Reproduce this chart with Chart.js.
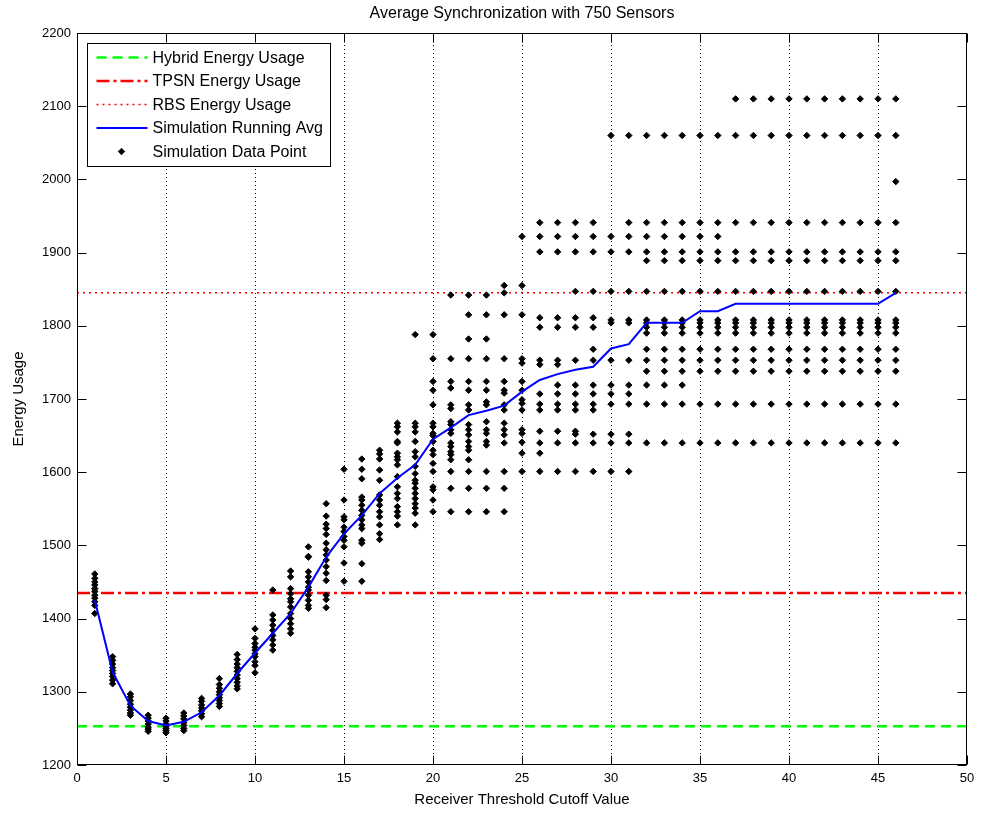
<!DOCTYPE html>
<html>
<head>
  <meta charset="utf-8">
  <script src="https://cdn.jsdelivr.net/npm/chart.js"></script>
  <style>
    html, body { margin: 0; padding: 0; background: #fff; }
    #wrap { width: 982px; height: 814px; }
  </style>
</head>
<body>
  <div id="wrap"><canvas id="energyChart" width="982" height="814"></canvas></div>

  <script>
    // receiver threshold cutoff values used by the simulation
    const thresholds = [
      1, 2, 3, 4, 5, 6, 7, 8, 9, 10, 11, 12, 13, 14, 15, 16, 17, 18, 19, 20, 21, 22, 23,
      24, 25, 26, 27, 28, 29, 30, 31, 32, 33, 34, 35, 36, 37, 38, 39, 40, 41, 42, 43, 44, 45, 46
    ]

    // running average of the simulated energy usage
    const runningAvg = [
      1425, 1327, 1281, 1260, 1254, 1259, 1272, 1295, 1325, 1353,
      1380, 1407, 1443, 1484, 1516, 1541, 1571, 1592, 1610, 1645,
      1661, 1678, 1684, 1691, 1710, 1726, 1734, 1740, 1744, 1769,
      1775, 1804, 1804, 1804, 1820, 1820, 1830, 1830, 1830, 1830,
      1830, 1830, 1830, 1830, 1830, 1845
    ]

    // single simulation runs, one list per threshold value (1..46)
    const simulationRuns = [
      [1461, 1455, 1450, 1446, 1441, 1437, 1432, 1428, 1423, 1418, 1407],
      [1348, 1343, 1338, 1333, 1329, 1325, 1321, 1316, 1311],
      [1297, 1293, 1288, 1283, 1279, 1275, 1271, 1268],
      [1268, 1264, 1260, 1256, 1252, 1249, 1246],
      [1264, 1260, 1256, 1253, 1250, 1247, 1244],
      [1271, 1267, 1263, 1258, 1254, 1250, 1247],
      [1291, 1287, 1282, 1278, 1274, 1270, 1266],
      [1318, 1310, 1305, 1300, 1296, 1292, 1288, 1284, 1280],
      [1351, 1344, 1338, 1333, 1328, 1323, 1318, 1313, 1308, 1304],
      [1386, 1373, 1366, 1361, 1357, 1352, 1348, 1341, 1336, 1326],
      [1439, 1405, 1398, 1391, 1384, 1377, 1371, 1364, 1357],
      [1465, 1457, 1441, 1434, 1427, 1423, 1416, 1407, 1400, 1393, 1386, 1380],
      [1498, 1485, 1484, 1464, 1457, 1450, 1443, 1439, 1432, 1425, 1418, 1414],
      [1557, 1540, 1529, 1523, 1515, 1503, 1494, 1487, 1480, 1471, 1462, 1452, 1432, 1426, 1415],
      [1604, 1562, 1539, 1535, 1525, 1519, 1512, 1507, 1498, 1476, 1451],
      [1618, 1604, 1591, 1566, 1562, 1555, 1548, 1541, 1535, 1528, 1523, 1507, 1503, 1475, 1451],
      [1630, 1625, 1618, 1603, 1589, 1569, 1562, 1555, 1546, 1539, 1528, 1516, 1508],
      [1667, 1662, 1655, 1642, 1640, 1626, 1621, 1617, 1610, 1594, 1580, 1571, 1564, 1553, 1546, 1540, 1528],
      [1788, 1667, 1662, 1655, 1642, 1628, 1621, 1608, 1598, 1589, 1585, 1578, 1571, 1564, 1557, 1551, 1544, 1528],
      [1788, 1755, 1724, 1712, 1692, 1667, 1662, 1653, 1650, 1642, 1630, 1624, 1612, 1601, 1580, 1576, 1562, 1546],
      [1842, 1755, 1724, 1715, 1692, 1687, 1669, 1665, 1658, 1653, 1640, 1635, 1628, 1624, 1617, 1601, 1578, 1546],
      [1842, 1815, 1782, 1755, 1724, 1712, 1692, 1685, 1665, 1658, 1651, 1642, 1635, 1630, 1617, 1601, 1578, 1546],
      [1842, 1815, 1782, 1755, 1724, 1712, 1696, 1692, 1669, 1658, 1653, 1642, 1637, 1601, 1578, 1546],
      [1855, 1845, 1815, 1755, 1724, 1712, 1708, 1692, 1685, 1667, 1658, 1651, 1640, 1601, 1578, 1546],
      [1922, 1855, 1815, 1755, 1749, 1724, 1712, 1699, 1694, 1685, 1658, 1653, 1641, 1626, 1601],
      [1941, 1922, 1901, 1811, 1798, 1753, 1747, 1707, 1693, 1685, 1656, 1640, 1626, 1601],
      [1941, 1922, 1901, 1811, 1798, 1753, 1747, 1719, 1707, 1693, 1685, 1656, 1640, 1601],
      [1941, 1922, 1901, 1847, 1811, 1798, 1753, 1719, 1707, 1693, 1685, 1656, 1652, 1640, 1601],
      [1941, 1922, 1901, 1847, 1811, 1798, 1768, 1753, 1719, 1707, 1693, 1685, 1652, 1640, 1601],
      [2060, 1922, 1901, 1847, 1808, 1804, 1753, 1719, 1707, 1693, 1652, 1640, 1601],
      [2060, 1941, 1922, 1901, 1847, 1808, 1804, 1753, 1719, 1707, 1693, 1652, 1640, 1601],
      [2060, 1941, 1922, 1901, 1889, 1847, 1808, 1804, 1798, 1790, 1768, 1753, 1738, 1719, 1693, 1640],
      [2060, 1941, 1922, 1901, 1889, 1847, 1808, 1804, 1798, 1790, 1768, 1753, 1738, 1719, 1693, 1640],
      [2060, 1941, 1922, 1901, 1889, 1847, 1808, 1804, 1798, 1790, 1768, 1753, 1738, 1719, 1693, 1640],
      [2060, 1941, 1922, 1901, 1889, 1847, 1808, 1804, 1798, 1790, 1768, 1753, 1738, 1693, 1640],
      [2060, 1941, 1922, 1901, 1889, 1847, 1808, 1804, 1798, 1790, 1768, 1753, 1738, 1693, 1640],
      [2110, 2060, 1941, 1901, 1889, 1847, 1808, 1804, 1798, 1790, 1768, 1753, 1738, 1693, 1640],
      [2110, 2060, 1941, 1901, 1889, 1847, 1808, 1804, 1798, 1790, 1768, 1753, 1738, 1693, 1640],
      [2110, 2060, 1941, 1901, 1889, 1847, 1808, 1804, 1798, 1790, 1768, 1753, 1738, 1693, 1640],
      [2110, 2060, 1941, 1901, 1889, 1847, 1808, 1804, 1798, 1790, 1768, 1753, 1738, 1693, 1640],
      [2110, 2060, 1941, 1901, 1889, 1847, 1808, 1804, 1798, 1790, 1768, 1753, 1738, 1693, 1640],
      [2110, 2060, 1941, 1901, 1889, 1847, 1808, 1804, 1798, 1790, 1768, 1753, 1738, 1693, 1640],
      [2110, 2060, 1941, 1901, 1889, 1847, 1808, 1804, 1798, 1790, 1768, 1753, 1738, 1693, 1640],
      [2110, 2060, 1941, 1901, 1889, 1847, 1808, 1804, 1798, 1790, 1768, 1753, 1738, 1693, 1640],
      [2110, 2060, 1941, 1901, 1889, 1847, 1808, 1804, 1798, 1790, 1768, 1753, 1738, 1693, 1640],
      [2110, 2060, 1997, 1941, 1901, 1889, 1847, 1808, 1804, 1798, 1790, 1768, 1753, 1738, 1693, 1640]
    ]

    // reference energy usage of the three protocols
    const hybridEnergy = 1253
    const tpsnEnergy = 1435
    const rbsEnergy = 1845

    const xTicks = [0, 5, 10, 15, 20, 25, 30, 35, 40, 45, 50]
    const yTicks = [1200, 1300, 1400, 1500, 1600, 1700, 1800, 1900, 2000, 2100, 2200]

    const FONT = "'Liberation Sans', Arial, sans-serif"
    Chart.defaults.font.family = FONT
    Chart.defaults.color = '#000'

    const xMin = xTicks[0]
    const xMax = xTicks[xTicks.length - 1]

    function flatLine(v) {
      return [{ x: xMin, y: v }, { x: xMax, y: v }]
    }

    const avgPoints = thresholds.map((t, i) => ({ x: t, y: runningAvg[i] }))
    const runPoints = []
    simulationRuns.forEach((runs, i) => {
      runs.forEach(v => runPoints.push({ x: thresholds[i], y: v }))
    })

    // matlab style box with inward ticks and dotted x grid
    const axesFrame = {
      id: 'axesFrame',
      beforeDatasetsDraw(chart) {
        const { ctx, chartArea: a, scales: { x } } = chart
        ctx.save()
        ctx.strokeStyle = '#000'
        ctx.lineWidth = 1
        ctx.setLineDash([1, 3])
        xTicks.slice(1, -1).forEach(v => {
          const px = Math.round(x.getPixelForValue(v)) + 0.5
          ctx.beginPath()
          ctx.moveTo(px, a.top)
          ctx.lineTo(px, a.bottom)
          ctx.stroke()
        })
        ctx.restore()
      },
      afterDatasetsDraw(chart) {
        const { ctx, chartArea: a, scales: { x, y } } = chart
        const tick = 9
        const L = Math.round(a.left) + 0.5, R = Math.round(a.right) - 0.5
        const T = Math.round(a.top) + 0.5, B = Math.round(a.bottom) - 0.5
        ctx.save()
        ctx.strokeStyle = '#000'
        ctx.lineWidth = 1
        ctx.setLineDash([])
        ctx.beginPath()
        xTicks.forEach(v => {
          const px = Math.round(x.getPixelForValue(v)) + 0.5
          ctx.moveTo(px, B); ctx.lineTo(px, B - tick)
          ctx.moveTo(px, T); ctx.lineTo(px, T + tick)
        })
        yTicks.forEach(v => {
          const py = Math.round(y.getPixelForValue(v)) + 0.5
          ctx.moveTo(L, py); ctx.lineTo(L + tick, py)
          ctx.moveTo(R, py); ctx.lineTo(R - tick, py)
        })
        ctx.stroke()
        ctx.strokeRect(L, T, R - L, B - T)
        ctx.restore()
      },
      afterDraw(chart) {
        const { ctx, chartArea: a } = chart
        ctx.save()
        ctx.fillStyle = '#000'
        ctx.font = '16px ' + FONT
        ctx.textAlign = 'center'
        ctx.textBaseline = 'middle'
        ctx.fillText('Average Synchronization with 750 Sensors', (a.left + a.right) / 2, 14)

        // legend box in the upper left corner of the axes
        const datasets = chart.data.datasets
        const bx = Math.round(a.left) + 10.5, by = Math.round(a.top) + 10.5
        const bw = 243, bh = 123
        ctx.fillStyle = '#fff'
        ctx.fillRect(bx, by, bw, bh)
        ctx.strokeStyle = '#000'
        ctx.lineWidth = 1
        ctx.strokeRect(bx, by, bw, bh)
        ctx.textAlign = 'left'
        datasets.forEach((ds, i) => {
          const ry = by + 14 + i * 23.5
          if (ds.showLine) {
            ctx.save()
            ctx.strokeStyle = ds.borderColor
            ctx.lineWidth = ds.borderWidth
            ctx.setLineDash(ds.borderDash || [])
            ctx.beginPath()
            ctx.moveTo(bx + 9, ry)
            ctx.lineTo(bx + 60, ry)
            ctx.stroke()
            ctx.restore()
          } else {
            ctx.save()
            ctx.fillStyle = ds.backgroundColor
            ctx.strokeStyle = ds.borderColor
            ctx.lineWidth = ds.pointBorderWidth
            Chart.helpers.drawPoint(ctx, {
              pointStyle: ds.pointStyle, radius: ds.pointRadius, borderWidth: ds.pointBorderWidth
            }, bx + 34, ry)
            ctx.restore()
          }
          ctx.fillStyle = '#000'
          ctx.fillText(ds.label, bx + 65, ry + 1)
        })
        ctx.restore()
      }
    }

    const lineDefaults = { showLine: true, pointRadius: 0, fill: false, tension: 0 }

    new Chart(document.getElementById('energyChart'), {
      type: 'scatter',
      data: {
        datasets: [
          Object.assign({
            label: 'Hybrid Energy Usage', data: flatLine(hybridEnergy),
            borderColor: '#00ff00', borderWidth: 2.5, borderDash: [10, 6], order: 4
          }, lineDefaults),
          Object.assign({
            label: 'TPSN Energy Usage', data: flatLine(tpsnEnergy),
            borderColor: '#ff0000', borderWidth: 2.5, borderDash: [13, 4, 3, 4], order: 3
          }, lineDefaults),
          Object.assign({
            label: 'RBS Energy Usage', data: flatLine(rbsEnergy),
            borderColor: '#ff0000', borderWidth: 1.5, borderDash: [2, 4], order: 2
          }, lineDefaults),
          Object.assign({
            label: 'Simulation Running Avg', data: avgPoints,
            borderColor: '#0000ff', borderWidth: 2, borderDash: [], order: 0
          }, lineDefaults),
          {
            label: 'Simulation Data Point', data: runPoints, showLine: false,
            pointStyle: 'rectRot', pointRadius: 3.2, pointBorderWidth: 1,
            backgroundColor: '#000', borderColor: '#000', order: 1
          }
        ]
      },
      options: {
        responsive: false,
        animation: false,
        events: [],
        layout: { padding: { top: 33, right: 15, bottom: 0, left: 0 } },
        plugins: {
          legend: { display: false },
          tooltip: { enabled: false },
          title: { display: false }
        },
        scales: {
          x: {
            type: 'linear', min: xMin, max: xMax,
            afterBuildTicks: s => { s.ticks = xTicks.map(v => ({ value: v })) },
            afterFit: s => { s.height = 49 },
            grid: { display: false, drawTicks: false },
            border: { display: false },
            ticks: { padding: 6, font: { size: 13 }, color: '#000', callback: v => String(v) },
            title: {
              display: true, text: 'Receiver Threshold Cutoff Value',
              font: { size: 15 }, color: '#000', padding: { top: 0, bottom: 5 }
            }
          },
          y: {
            type: 'linear', min: yTicks[0], max: yTicks[yTicks.length - 1],
            afterBuildTicks: s => { s.ticks = yTicks.map(v => ({ value: v })) },
            afterFit: s => { s.width = 77 },
            grid: { display: false, drawTicks: false },
            border: { display: false },
            ticks: { padding: 6, font: { size: 13 }, color: '#000', callback: v => String(v) },
            title: {
              display: true, text: 'Energy Usage',
              font: { size: 15 }, color: '#000', padding: { top: 10, bottom: 0 }
            }
          }
        }
      },
      plugins: [axesFrame]
    })
  </script>
</body>
</html>
